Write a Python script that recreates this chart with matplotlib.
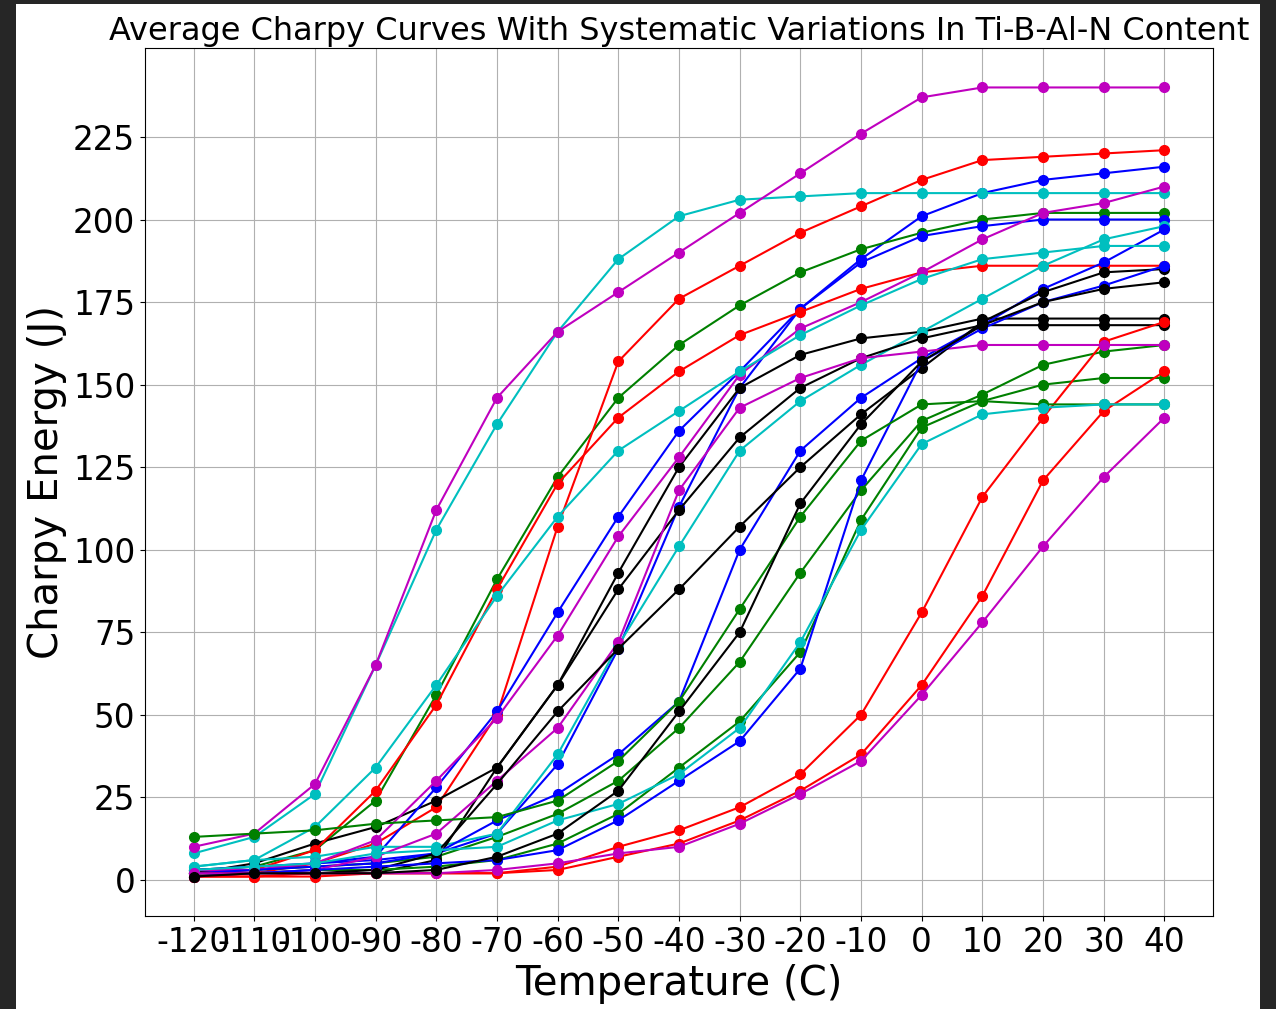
import matplotlib.pyplot as plt
from matplotlib.patches import Rectangle

temps = [-120, -110, -100, -90, -80, -70, -60, -50, -40, -30, -20, -10, 0, 10, 20, 30, 40]

# blue
b1 = [2, 3, 5, 6, 8, 14, 35, 70, 113, 149, 173, 188, 201, 208, 212, 214, 216]
b2 = [3, 4, 5, 7, 28, 51, 81, 110, 136, 154, 173, 187, 195, 198, 200, 200, 200]
b3 = [2, 3, 4, 5, 8, 18, 26, 38, 54, 100, 130, 146, 158, 168, 179, 187, 197]
b4 = [1, 2, 3, 4, 5, 6, 9, 18, 30, 42, 64, 121, 157, 167, 175, 180, 186]
# green
g1 = [3, 4, 9, 24, 56, 91, 122, 146, 162, 174, 184, 191, 196, 200, 202, 202, 202]
g2 = [3, 3, 4, 5, 7, 13, 20, 30, 46, 66, 93, 118, 139, 147, 156, 160, 162]
g3 = [2, 2, 3, 3, 4, 6, 11, 20, 34, 48, 69, 109, 137, 145, 150, 152, 152]
g4 = [13, 14, 15, 17, 18, 19, 24, 36, 54, 82, 110, 133, 144, 145, 144, 144, 144]
# red
r1 = [1, 2, 5, 11, 22, 50, 107, 157, 176, 186, 196, 204, 212, 218, 219, 220, 221]
r2 = [2, 3, 9, 27, 53, 88, 120, 140, 154, 165, 172, 179, 184, 186, 186, 186, 186]
r3 = [1, 1, 2, 2, 2, 2, 4, 10, 15, 22, 32, 50, 81, 116, 140, 163, 169]
r4 = [1, 1, 1, 2, 2, 2, 3, 7, 11, 18, 27, 38, 59, 86, 121, 142, 154]
# cyan
c1 = [8, 13, 26, 65, 106, 138, 166, 188, 201, 206, 207, 208, 208, 208, 208, 208, 208]
c2 = [4, 6, 7, 10, 10, 14, 38, 71, 101, 130, 145, 156, 166, 176, 186, 194, 198]
c3 = [4, 6, 16, 34, 59, 86, 110, 130, 142, 154, 165, 174, 182, 188, 190, 192, 192]
c4 = [3, 4, 5, 8, 9, 10, 18, 23, 32, 46, 72, 106, 132, 141, 143, 144, 144]
# magenta
m1 = [10, 14, 29, 65, 112, 146, 166, 178, 190, 202, 214, 226, 237, 240, 240, 240, 240]
m2 = [3, 3, 5, 12, 30, 49, 74, 104, 128, 153, 167, 175, 184, 194, 202, 205, 210]
m3 = [2, 2, 3, 7, 14, 30, 46, 72, 118, 143, 152, 158, 160, 162, 162, 162, 162]
m4 = [2, 2, 2, 2, 2, 3, 5, 8, 10, 17, 26, 36, 56, 78, 101, 122, 140]
# black
k1 = [2, 5, 11, 16, 24, 34, 59, 93, 125, 149, 159, 164, 166, 170, 170, 170, 170]
k2 = [2, 2, 2, 2, 6, 34, 59, 88, 112, 134, 149, 158, 164, 168, 168, 168, 168]
k3 = [2, 2, 2, 3, 8, 29, 51, 70, 88, 107, 125, 141, 155, 169, 178, 184, 185]
k4 = [1, 2, 2, 2, 3, 7, 14, 27, 51, 75, 114, 138, 157, 168, 175, 179, 181]

groups = [(b1, g1, r1, c1, m1, k1),
          (b2, g2, r2, c2, m2, k2),
          (b3, g3, r3, c3, m3, k3),
          (b4, g4, r4, c4, m4, k4)]
colours = ['b', 'g', 'r', 'c', 'm', 'k']

fig = plt.figure(figsize=(12.76, 10.09), dpi=100)
fig.patch.set_facecolor('#262626')
fig.patches.append(Rectangle((16 / 1276, 0), 1244 / 1276, 1005 / 1009,
                             transform=fig.transFigure, facecolor='white',
                             edgecolor='none', zorder=-10))
ax = fig.add_axes([145 / 1276, 1 - 916 / 1009, 1068 / 1276, 868 / 1009])

for group in groups:
    for energy, col in zip(group, colours):
        ax.plot(temps, energy, color=col, marker='o', markersize=7, linewidth=1.5)

ax.set_xticks(temps)
ax.set_xticklabels([str(t) for t in temps])
ax.set_yticks(range(0, 226, 25))
ax.tick_params(labelsize=23.5)
ax.grid(True)
ax.set_title('Average Charpy Curves With Systematic Variations In Ti-B-Al-N Content', fontsize=23)
ax.set_xlabel('Temperature (C)', fontsize=29)
ax.set_ylabel('Charpy Energy (J)', fontsize=29)

fig.savefig('out.png', dpi=100, facecolor=fig.get_facecolor())
